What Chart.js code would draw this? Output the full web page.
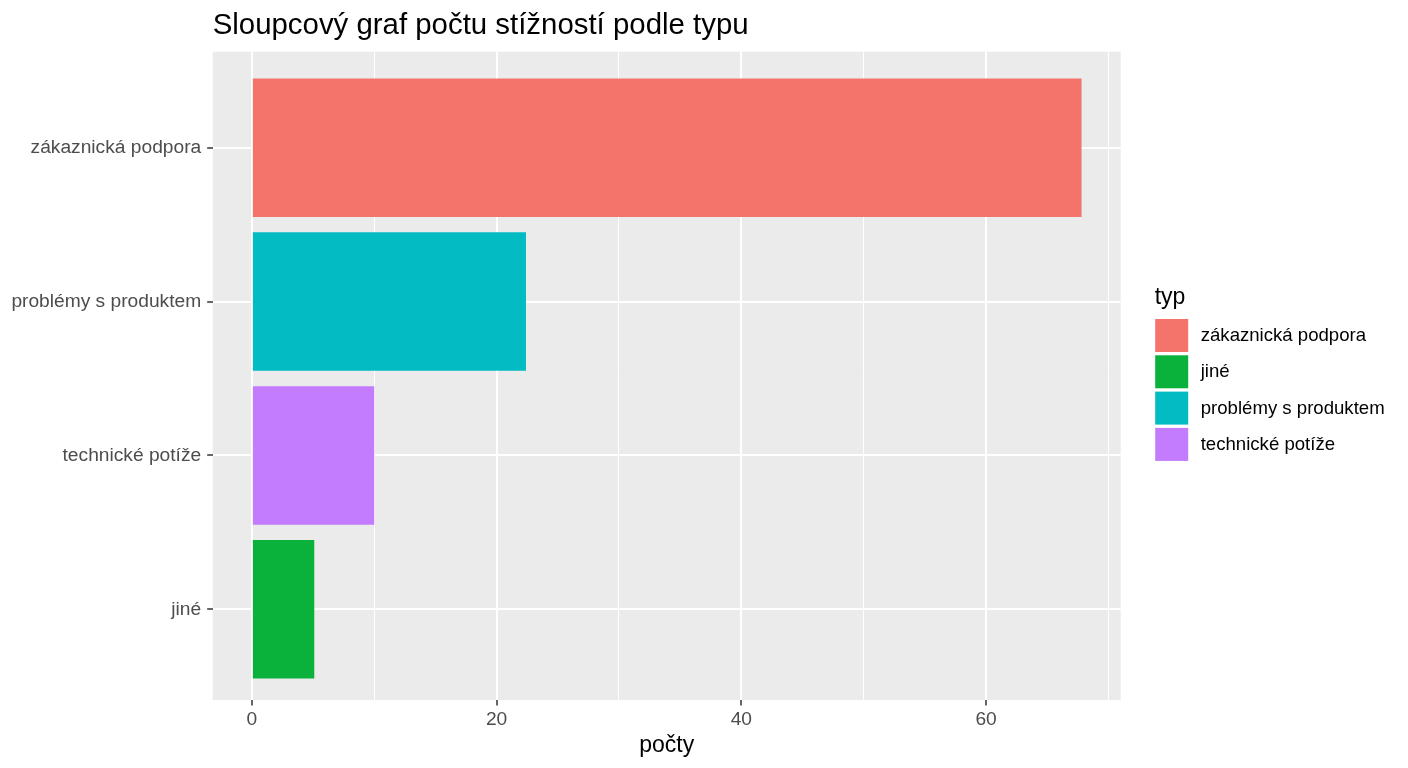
<!DOCTYPE html>
<html>
<head>
<meta charset="utf-8">
<script src="https://cdn.jsdelivr.net/npm/chart.js@4.4.1/dist/chart.umd.min.js"></script>
<style>
  html, body { margin: 0; padding: 0; background: #fff; }
  #wrap { width: 1408px; height: 768px; }
</style>
</head>
<body>
<div id="wrap"><canvas id="myChart"></canvas></div>
<script>
// categories from bottom to top, as ggplot lays them out
var categories = ['jiné', 'technické potíže', 'problémy s produktem', 'zákaznická podpora']
var positions = [1, 2, 3, 4]
var counts = [5.1, 10, 22.4, 67.8]
var barColors = ['#0AB13A', '#C27CFD', '#02BBC3', '#F4736A']

// legend order as in the reference
var legendLabels = ['zákaznická podpora', 'jiné', 'problémy s produktem', 'technické potíže']

var xTicks = [0, 10, 20, 30, 40, 50, 60, 70]
var xMajor = [0, 20, 40, 60]

var font = "'Liberation Sans', Arial, sans-serif"

var points = []
for (var i = 0; i < categories.length; i++) {
    points.push({ x: counts[i], y: positions[i] })
}

function colorOf(label) {
    return barColors[categories.indexOf(label)]
}

var panelBg = {
    id: 'panelBg',
    beforeDraw: function (chart) {
        var c = chart.ctx, a = chart.chartArea
        c.save()
        c.fillStyle = '#ffffff'
        c.fillRect(0, 0, chart.width, chart.height)
        c.fillStyle = '#EBEBEB'
        c.fillRect(a.left, a.top, a.right - a.left, a.bottom - a.top)
        c.restore()
    }
}

var sideLegend = {
    id: 'sideLegend',
    afterDraw: function (chart) {
        var c = chart.ctx, a = chart.chartArea
        var x0 = a.right + 34.5
        c.save()
        c.fillStyle = '#000'
        c.font = '23px ' + font
        c.textBaseline = 'alphabetic'
        c.textAlign = 'left'
        c.fillText('typ', x0 - 0.5, 303.5)
        c.font = '18.6px ' + font
        c.textBaseline = 'middle'
        for (var i = 0; i < legendLabels.length; i++) {
            var y = 319 + i * 36.3
            c.fillStyle = colorOf(legendLabels[i])
            c.fillRect(x0, y, 33, 33)
            c.fillStyle = '#000'
            c.fillText(legendLabels[i], x0 + 45.5, y + 17)
        }
        c.restore()
    }
}

var ctx = document.getElementById('myChart')
var myChart = new Chart(ctx, {
    type: 'bar',
    data: {
        datasets: [{
            label: 'typ',
            data: points,
            backgroundColor: barColors,
            borderWidth: 0,
            categoryPercentage: 0.9,
            barPercentage: 1.0
        }]
    },
    options: {
        indexAxis: 'y',
        responsive: true,
        maintainAspectRatio: false,
        animation: false,
        layout: { padding: { left: 0, right: 287.3, top: 0, bottom: 0 } },
        plugins: {
            legend: { display: false },
            tooltip: { enabled: false },
            title: {
                display: true,
                text: 'Sloupcový graf počtu stížností podle typu',
                align: 'start',
                fullSize: false,
                color: '#000',
                font: { family: font, size: 29.4, weight: 'normal' },
                padding: { top: 8, bottom: 8.4 }
            }
        },
        scales: {
            x: {
                type: 'linear',
                min: -3.2,
                max: 71,
                afterBuildTicks: function (scale) {
                    scale.ticks = xTicks.map(function (v) { return { value: v } })
                },
                afterFit: function (scale) { scale.height = 68 },
                border: { display: false },
                grid: {
                    color: '#ffffff',
                    lineWidth: function (c) { return xMajor.indexOf(c.tick.value) >= 0 ? 2 : 1 },
                    tickColor: function (c) { return xMajor.indexOf(c.tick.value) >= 0 ? '#333333' : 'rgba(0,0,0,0)' },
                    tickWidth: 1.5,
                    tickLength: 5.5
                },
                ticks: {
                    color: '#4D4D4D',
                    padding: 3,
                    maxRotation: 0,
                    autoSkip: false,
                    font: { family: font, size: 19.2 },
                    callback: function (v) { return xMajor.indexOf(v) >= 0 ? String(v) : '' }
                },
                title: {
                    display: true,
                    text: 'počty',
                    color: '#000',
                    font: { family: font, size: 23 },
                    padding: { top: 0, bottom: 9 }
                }
            },
            y: {
                type: 'linear',
                min: 0.411,
                max: 4.624,
                offset: false,
                afterBuildTicks: function (scale) {
                    scale.ticks = positions.map(function (v) { return { value: v } })
                },
                afterFit: function (scale) { scale.width = 212.7 },
                border: { display: false },
                grid: {
                    offset: false,
                    color: '#ffffff',
                    lineWidth: 2,
                    tickColor: '#333333',
                    tickWidth: 1.5,
                    tickLength: 5.5
                },
                ticks: {
                    color: '#4D4D4D',
                    padding: 6,
                    autoSkip: false,
                    font: { family: font, size: 19.2 },
                    callback: function (v) { return categories[positions.indexOf(v)] }
                }
            }
        }
    },
    plugins: [panelBg, sideLegend]
})
</script>
</body>
</html>
